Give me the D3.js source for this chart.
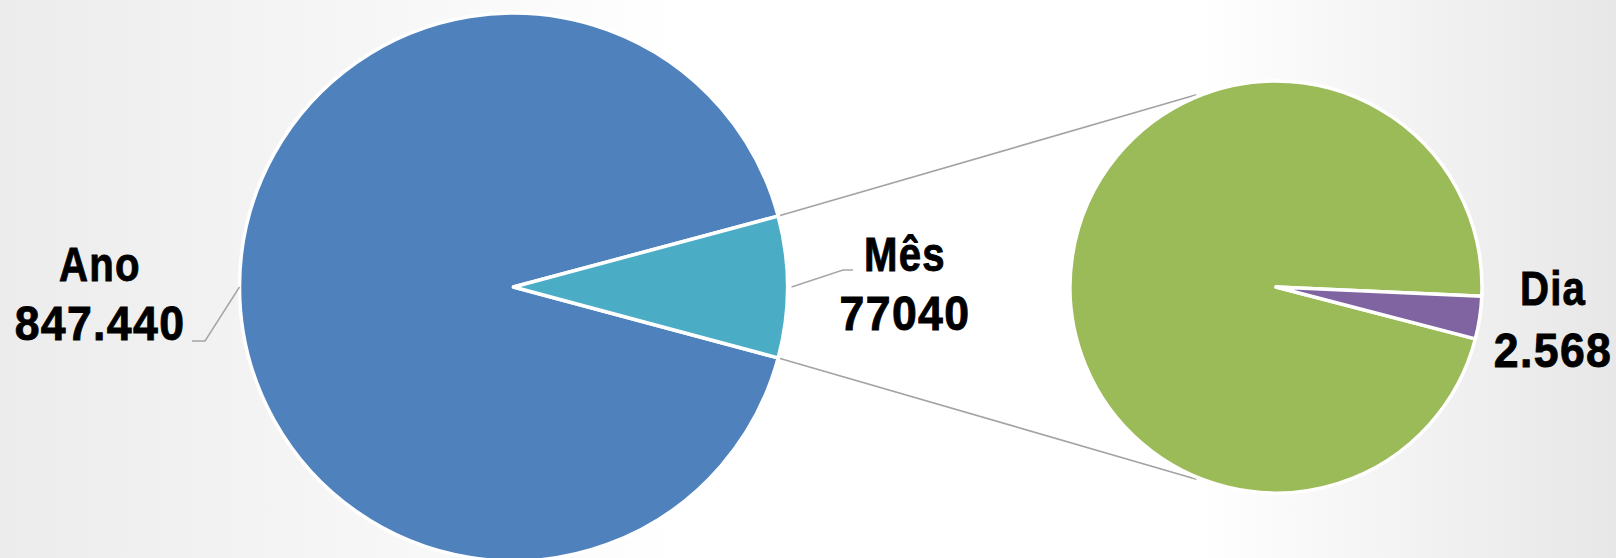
<!DOCTYPE html>
<html>
<head>
<meta charset="utf-8">
<script src="https://cdn.jsdelivr.net/npm/d3@7"></script>
<style>
  html, body { margin: 0; padding: 0; background: #fff; }
  svg { display: block; }
</style>
</head>
<body>
<div id="chart"></div>
<script>
// main pie
const categories = ["Ano", "Mês"];
const values = [847440, 77040];
const valueLabels = ["847.440", "77040"];

// second pie : breakdown of "Mês"
const subCategories = ["Mês (restante)", "Dia"];
const subValues = [74472, 2568];
const subValueLabels = ["", "2.568"];

const colors = { "Ano": "#4f81bd", "Mês": "#4bacc6", "Mês (restante)": "#9bbb59", "Dia": "#8064a2" };

const width = 1616,
height = 558,
main = { cx: 513.5, cy: 287, r: 274 },
sub = { cx: 1276, cy: 287, r: 206 },
deg = Math.PI / 180;

const svg = d3.select("#chart").
append("svg").
attr("width", width).
attr("height", height);

// soft grey background, white in the middle
const grad = svg.append("defs").append("linearGradient").
attr("id", "bg").
attr("x1", "0%").attr("x2", "100%").attr("y1", "0%").attr("y2", "0%");
grad.selectAll("stop").
data([["0%", "#ececec"], ["42%", "#ffffff"], ["74%", "#ffffff"], ["100%", "#e7e7e7"]]).
join("stop").
attr("offset", d => d[0]).
attr("stop-color", d => d[1]);

svg.append("rect").
attr("width", width).
attr("height", height).
attr("fill", "url(#bg)");

const mainData = categories.map((c, i) => ({ name: c, value: values[i], label: valueLabels[i] }));
const subData = subCategories.map((c, i) => ({ name: c, value: subValues[i], label: subValueLabels[i] }));

// Ano starts just below 3 o'clock, Mês fills the wedge centred on the right
const mainPie = d3.pie().sort(null).value(d => d.value).
startAngle(105 * deg).endAngle(465 * deg);
const subPie = d3.pie().sort(null).value(d => d.value).
startAngle(104.6 * deg).endAngle(464.6 * deg);

const mainArcs = mainPie(mainData);
const subArcs = subPie(subData);

const mainArc = d3.arc().innerRadius(0).outerRadius(main.r);
const subArc = d3.arc().innerRadius(0).outerRadius(sub.r);

// point on a circle, d3 angle convention (0 = 12 o'clock, clockwise)
const polar = (c, r, a) => [c.cx + r * Math.sin(a), c.cy - r * Math.cos(a)];

// connector lines between the "Mês" slice and the second pie
const mes = mainArcs[1];
const connectors = [
[polar(main, main.r + 2, mes.startAngle), polar(sub, sub.r + 2, -22.5 * deg)],
[polar(main, main.r + 2, mes.endAngle), polar(sub, sub.r + 2, 202.5 * deg)]];

svg.append("g").
selectAll("line").
data(connectors).
join("line").
attr("x1", d => d[0][0]).attr("y1", d => d[0][1]).
attr("x2", d => d[1][0]).attr("y2", d => d[1][1]).
attr("stroke", "#a3a3a3").
attr("stroke-width", 1.6);

svg.append("g").
attr("transform", `translate(${main.cx},${main.cy})`).
selectAll("path").
data(mainArcs).
join("path").
attr("d", mainArc).
attr("fill", d => colors[d.data.name]).
attr("stroke", "#fff").
attr("stroke-width", 3.5).
attr("stroke-linejoin", "round");

svg.append("g").
attr("transform", `translate(${sub.cx},${sub.cy})`).
selectAll("path").
data(subArcs).
join("path").
attr("d", subArc).
attr("fill", d => colors[d.data.name]).
attr("stroke", "#fff").
attr("stroke-width", 3.5).
attr("stroke-linejoin", "round");

// leader lines for the labels
const leaders = [
[polar(main, main.r, 270 * deg), [205, 341], [192, 341]],
[polar(main, main.r + 4, 90 * deg), [843, 270], [853, 270]]];

svg.append("g").
selectAll("path").
data(leaders).
join("path").
attr("d", d => d3.line()(d)).
attr("fill", "none").
attr("stroke", "#a6a6a6").
attr("stroke-width", 1.5);

// labels: name on top, value below
const labelPos = {
  "Ano": { x: 100, y1: 281, y2: 340 },
  "Mês": { x: 905, y1: 271, y2: 330 },
  "Dia": { x: 1553, y1: 305, y2: 367 } };


const labelData = mainData.concat(subData).filter(d => labelPos[d.name]);

const labels = svg.append("g").
selectAll("g").
data(labelData).
join("g").
attr("transform", d => `translate(${labelPos[d.name].x},0)`).
style("font-family", "'Liberation Sans', Arial, sans-serif").
style("font-weight", "bold").
style("font-size", "49px").
attr("fill", "#000").
attr("stroke", "#000").
attr("stroke-width", 0.9).
attr("text-anchor", "middle");

labels.append("text").
attr("transform", d => `translate(0,${labelPos[d.name].y1}) scale(0.82,1)`).
style("letter-spacing", "1.5px").
text(d => d.name);

labels.append("text").
attr("transform", d => `translate(0,${labelPos[d.name].y2}) scale(0.91,1)`).
style("letter-spacing", "1.5px").
text(d => d.label);
</script>
</body>
</html>
